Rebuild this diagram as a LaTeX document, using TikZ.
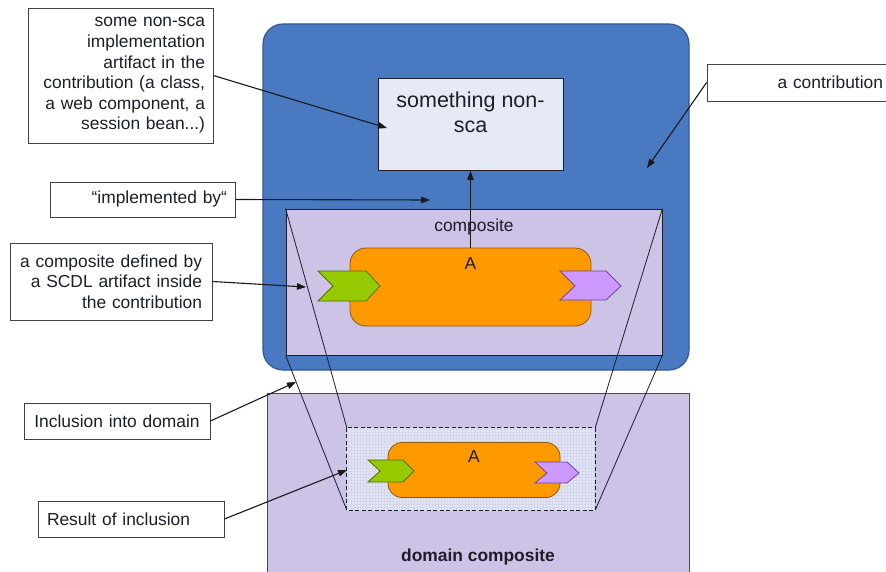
\documentclass[tikz,border=0pt]{standalone}
\usepackage{fontspec}
\setmainfont{Liberation Sans}
\usetikzlibrary{arrows.meta,calc}

\definecolor{contribblue}{RGB}{72,121,193}
\definecolor{contribedge}{RGB}{52,88,150}
\definecolor{lavender}{RGB}{205,195,231}
\definecolor{paleblue}{RGB}{229,234,246}
\definecolor{orangefill}{RGB}{255,153,0}
\definecolor{orangeedge}{RGB}{140,90,20}
\definecolor{greenfill}{RGB}{150,202,0}
\definecolor{greenedge}{RGB}{80,110,0}
\definecolor{purplefill}{RGB}{204,153,255}
\definecolor{purpleedge}{RGB}{110,70,160}
\definecolor{gridfill}{RGB}{228,230,246}
\definecolor{gridline}{RGB}{212,214,236}
\definecolor{inkdark}{RGB}{30,30,40}

\newcommand\notefont{\fontsize{17.4}{20.6}\selectfont}

\tikzset{
  note/.style={draw=black!75, fill=white, line width=0.8pt, inner ysep=0pt,
    font=\notefont, text=inkdark},
  conn/.style={line width=1.1pt, draw=black!90, -{Triangle[length=9pt,width=6.5pt]}},
  plain/.style={inner sep=0pt, font=\notefont, text=inkdark, text height=12.5pt, text depth=3.6pt},
  boxshape/.style={inner sep=0pt},
  trap/.style={line width=0.8pt, draw=inkdark},
  greenport/.style={fill=greenfill, draw=greenedge, line width=0.8pt, line join=miter},
  purpleport/.style={fill=purplefill, draw=purpleedge, line width=0.8pt, line join=miter},
}

\begin{document}
\begin{tikzpicture}[x=1pt,y=-1pt]
\useasboundingbox (0,0) rectangle (886,572);
\fill[white] (0,0) rectangle (886,572);

% ---- the contribution -------------------------------------------------
\node[boxshape, draw=contribedge, fill=contribblue, line width=1.2pt,
      rounded corners=20pt, minimum width=426pt, minimum height=346pt]
      (contrib) at (476,197) {};

% non-SCA implementation artifact
\node[boxshape, draw=inkdark, fill=paleblue, line width=0.8pt,
      minimum width=185pt, minimum height=92pt, align=center,
      font=\fontsize{21.5}{25}\selectfont, text=inkdark]
      (nonsca) at (470.5,124.5) {something non-\\sca\\\mbox{}};

% composite inside the contribution
\node[boxshape, draw=inkdark, fill=lavender, line width=0.8pt,
      minimum width=376pt, minimum height=146pt]
      (comp) at (474,282) {};
\node[plain] (compLabel) at ($(comp.north)+(0,18)$) {composite};

% component A
\node[boxshape, draw=orangeedge, fill=orangefill, line width=0.8pt,
      rounded corners=16pt, minimum width=241pt, minimum height=78pt]
      (compA) at (470.5,287) {};
\node[plain] (compALabel) at ($(compA.north)+(0,17)$) {A};
\draw[greenport] (318,271) -- (366,271) -- (380,286) -- (366,301) -- (318,301) -- (333,286) -- cycle;
\draw[purpleport] (560,271) -- (606,271) -- (621,286) -- (606,300) -- (560,300) -- (575,286) -- cycle;

% ---- the domain composite ---------------------------------------------
\node[boxshape, draw=black!70, fill=lavender, line width=0.8pt,
      minimum width=422pt, minimum height=190pt]
      (domain) at (478,488) {};
\node[plain, font=\notefont\bfseries] (domainLabel) at (478,557) {domain composite};

% included copy of the composite
\node[boxshape, fill=gridfill, minimum width=248pt, minimum height=82pt]
      (incl) at (471,469) {};
\draw[gridline, line width=0.3pt, step=3pt] (incl.south west) grid (incl.north east);
\draw[inkdark, line width=0.8pt, dashed, dash pattern=on 4pt off 2.5pt]
      (incl.north west) rectangle (incl.south east);

\node[boxshape, draw=orangeedge, fill=orangefill, line width=0.8pt,
      rounded corners=14pt, minimum width=172pt, minimum height=55pt]
      (inclA) at (474,470) {};
\node[plain] (inclALabel) at ($(inclA.north)+(0,16)$) {A};
\draw[greenport] (368,460) -- (403,460) -- (414,471) -- (403,482) -- (368,482) -- (380,471) -- cycle;
\draw[purpleport] (535,462) -- (567,462) -- (579,473) -- (567,483) -- (535,483) -- (547,473) -- cycle;

% projection lines from the composite to its included copy
\draw[trap] (comp.north west) -- (incl.north west);
\draw[trap] (comp.south west) -- (incl.south west);
\draw[trap] (comp.north east) -- (incl.north east);
\draw[trap] (comp.south east) -- (incl.south east);

% "implemented by" link
\draw[conn] (compA.north) -- (nonsca.south);

% ---- callouts ---------------------------------------------------------
\node[note, text width=169pt, inner xsep=8pt, align=right, minimum height=135pt]
      (nonscaNote) at (120.5,75.5)
      {some non-sca\\implementation\\artifact in the\\contribution (a class,\\a web component, a\\session bean...)};
\node[note, text width=164pt, inner xsep=12pt, align=right, minimum height=37pt]
      (contribNote) at (801,82.5) {a contribution};
\node[note, text width=169pt, inner xsep=8pt, align=right, minimum height=35pt]
      (implNote) at (142.5,199.5) {“implemented by“};
\node[note, text width=182pt, inner xsep=10pt, align=right, minimum height=77pt]
      (compNote) at (111,281.5)
      {a composite defined by\\a SCDL artifact inside\\the contribution};
\node[note, text width=166pt, inner xsep=10pt, align=center, minimum height=36pt]
      (inclNote) at (117,421) {Inclusion into domain};
\node[note, text width=168pt, inner xsep=9pt, align=left, minimum height=36pt]
      (resultNote) at (131,519) {Result of inclusion};

% callout targets
\coordinate (nonscaTip) at (387,128);
\coordinate (contribTip) at (647,168);
\coordinate (implTip) at (430,200);
\coordinate (compTip) at (306,287);
\coordinate (inclTip) at (296,382);
\coordinate (resultTip) at (347,470);

\draw[conn] (nonscaNote.east) -- (nonscaTip);
\draw[conn] (contribNote.west) -- (contribTip);
\draw[conn] (implNote.east) -- (implTip);
\draw[conn] (compNote.east) -- (compTip);
\draw[conn] (inclNote.east) -- (inclTip);
\draw[conn] (resultNote.east) -- (resultTip);
\end{tikzpicture}
\end{document}
